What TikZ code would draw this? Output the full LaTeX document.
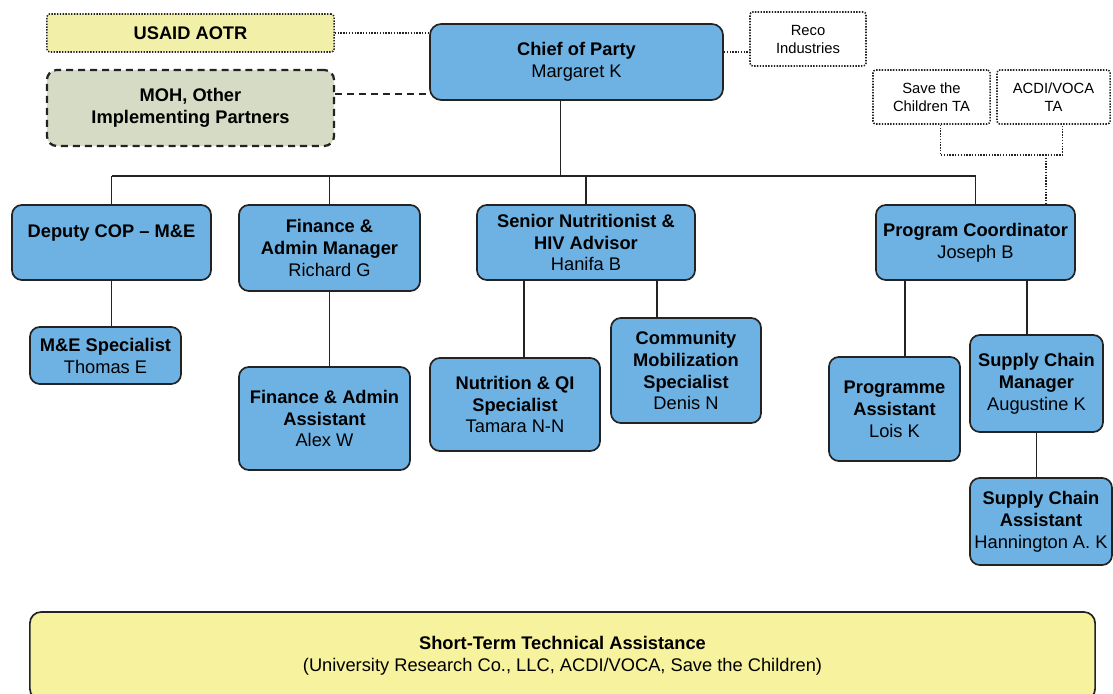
\documentclass[tikz,border=0pt]{standalone}
\usepackage{fontspec}
\setmainfont{Liberation Sans}
\usepackage{xcolor}
\usetikzlibrary{positioning}
\definecolor{boxblue}{RGB}{110,178,228}
\definecolor{edge}{RGB}{35,35,35}
\definecolor{aotrfill}{RGB}{242,240,168}
\definecolor{mohfill}{RGB}{214,219,197}
\definecolor{sttafill}{RGB}{247,242,158}

\begin{document}
\begin{tikzpicture}[x=0.025cm,y=-0.025cm,
  every node/.style={font=\fontsize{13}{15.6}\selectfont},
  box/.style={draw=edge,line width=1.2pt,fill=boxblue,rounded corners=7pt,align=center,inner sep=0pt},
  ext/.style={draw=edge,line width=1.1pt,dash pattern=on 1pt off 1pt,rounded corners=2pt,align=center,inner sep=0pt,font=\fontsize{10.5}{12.8}\selectfont},
  link/.style={edge,line width=1.2pt},
  dotlink/.style={edge,line width=1.1pt,dash pattern=on 1pt off 1pt}]
 \useasboundingbox (0,0) rectangle (1113,694);
 % top row
 \node[box,minimum width=7.325cm,minimum height=1.9cm,rounded corners=8pt] (cop) at (576.5,62) {\textbf{Chief of Party}\\Margaret K};
 \node[ext,fill=aotrfill,minimum width=7.175cm,minimum height=0.95cm,font=\fontsize{13}{15.6}\selectfont] (aotr) at (190.5,33) {\textbf{USAID AOTR}};
 \node[draw=edge,line width=1.6pt,dash pattern=on 5pt off 3.5pt,fill=mohfill,rounded corners=7pt,align=center,inner sep=0pt,minimum width=7.175cm,minimum height=1.9cm] (moh) at (190.5,108) {\textbf{MOH, Other}\\\textbf{Implementing Partners}};
 \node[ext,minimum width=2.9cm,minimum height=1.35cm] (reco) at (808,39) {Reco\\Industries};
 \node[ext,minimum width=2.925cm,minimum height=1.35cm] (stc) at (931.5,97) {Save the\\Children TA};
 \node[ext,minimum width=2.825cm,minimum height=1.35cm] (acdi) at (1053.5,97) {ACDI/VOCA\\TA};
 % first level
 \node[box,minimum width=4.975cm,minimum height=1.875cm] (dep) at (111.5,242.5) {\textbf{Deputy COP -- M\&E}\\~};
 \node[box,minimum width=4.525cm,minimum height=2.15cm] (fin) at (329.5,248) {\textbf{Finance \&}\\\textbf{Admin Manager}\\Richard G};
 \node[box,minimum width=5.45cm,minimum height=1.875cm] (snr) at (586,242.5) {\textbf{Senior Nutritionist \&}\\\textbf{HIV Advisor}\\Hanifa B};
 \node[box,minimum width=4.975cm,minimum height=1.875cm] (prg) at (975.5,242.5) {\textbf{Program Coordinator}\\Joseph B};
 % second level
 \node[box,minimum width=3.775cm,minimum height=1.425cm] (mes) at (105.5,355.5) {\textbf{M\&E Specialist}\\Thomas E};
 \node[box,minimum width=4.275cm,minimum height=2.575cm] (faa) at (324.5,418.5) {\textbf{Finance \& Admin}\\\textbf{Assistant}\\Alex W};
 \node[box,minimum width=4.25cm,minimum height=2.325cm] (nqi) at (515,404.5) {\textbf{Nutrition \& QI}\\\textbf{Specialist}\\Tamara N-N};
 \node[box,minimum width=3.75cm,minimum height=2.625cm] (cms) at (686,370.5) {\textbf{Community}\\\textbf{Mobilization}\\\textbf{Specialist}\\Denis N};
 \node[box,minimum width=3.275cm,minimum height=2.6cm] (pas) at (894.5,409) {\textbf{Programme}\\\textbf{Assistant}\\Lois K};
 \node[box,minimum width=3.325cm,minimum height=2.425cm] (scm) at (1036.5,383.5) {\textbf{Supply Chain}\\\textbf{Manager}\\Augustine K};
 \node[box,minimum width=3.55cm,minimum height=2.175cm] (sca) at (1041,521.5) {\textbf{Supply Chain}\\\textbf{Assistant}\\Hannington A. K};
 % bottom
 \node[draw=edge,line width=1.2pt,fill=sttafill,rounded corners=8pt,align=center,inner sep=0pt,minimum width=26.625cm,minimum height=2.2cm] (stta) at (562.5,656) {\textbf{Short-Term Technical Assistance}\\(University Research Co., LLC, ACDI/VOCA, Save the Children)};
 % links
 \coordinate (bus) at (0,176);
 \coordinate (ta) at (1046,155);
 \draw[link] ([xshift=-0.4cm]cop.south) -- ([xshift=-0.4cm]cop.south |- bus);
 \draw[link] (dep.north |- bus) -- (prg.north |- bus);
 \foreach \n in {dep,fin,snr,prg} \draw[link] (\n.north) -- (\n.north |- bus);
 \foreach \a/\b in {dep/mes,fin/faa,scm/sca} \draw[link] (\a.south) -- (\a.south |- \b.north);
 \draw[link] ([xshift=0.225cm]nqi.north) -- ([xshift=0.225cm]nqi.north |- snr.south);
 \draw[link] ([xshift=-0.725cm]cms.north) -- ([xshift=-0.725cm]cms.north |- snr.south);
 \draw[link] ([xshift=0.26cm]pas.north) -- ([xshift=0.26cm]pas.north |- prg.south);
 \draw[link] ([xshift=-0.24cm]scm.north) -- ([xshift=-0.24cm]scm.north |- prg.south);
 \draw[dotlink] (aotr.east) -- (aotr.east -| cop.west);
 \draw[link,line width=1.6pt,dash pattern=on 5pt off 3.5pt] ([yshift=0.35cm]moh.east) -- ([yshift=0.35cm]moh.east -| cop.west);
 \draw[dotlink] ([yshift=0.25cm]cop.east) -- ([yshift=0.25cm]cop.east -| reco.west);
 \draw[dotlink] ([xshift=0.22cm]stc.south) |- (ta) -| ([xshift=0.22cm]acdi.south);
 \draw[dotlink] (ta) -- (ta |- prg.north);
\end{tikzpicture}
\end{document}
